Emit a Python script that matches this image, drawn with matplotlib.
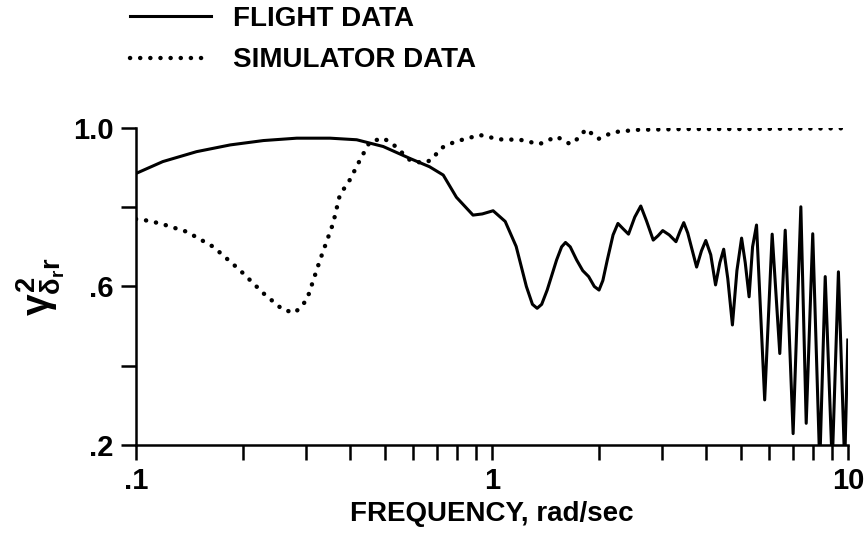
import numpy as np
import matplotlib
matplotlib.use("Agg")
import matplotlib.pyplot as plt
from matplotlib.lines import Line2D

plt.rcParams['font.family'] = ['Liberation Sans', 'DejaVu Sans']
plt.rcParams['font.weight'] = 'bold'
plt.rcParams['mathtext.fontset'] = 'custom'
plt.rcParams['mathtext.rm'] = 'Liberation Sans:bold'
plt.rcParams['mathtext.it'] = 'Liberation Sans:bold'
plt.rcParams['mathtext.bf'] = 'Liberation Sans:bold'
plt.rcParams['lines.scale_dashes'] = False

# coherence, flight test
flight_freq = [0.1, 0.119, 0.148, 0.184, 0.228, 0.283, 0.351, 0.417, 0.495, 0.588,
               0.668, 0.73, 0.795, 0.885, 0.94, 1.008, 1.09, 1.17, 1.25, 1.30,
               1.34, 1.38, 1.43, 1.52, 1.57, 1.61, 1.66, 1.73, 1.80, 1.87,
               1.94, 2.00, 2.05, 2.11, 2.19, 2.26, 2.34, 2.42, 2.52, 2.62,
               2.72, 2.84, 2.93, 3.02, 3.15, 3.29, 3.38, 3.46, 3.55, 3.76,
               3.88, 3.99, 4.12, 4.25, 4.37, 4.48, 4.60, 4.74, 4.88, 5.03,
               5.15, 5.28, 5.40, 5.54, 5.84, 6.13, 6.44, 6.67, 7.02, 7.38,
               7.64, 7.97, 8.34, 8.64, 9.04, 9.41, 9.80, 10.0]
flight_coh = [0.885, 0.915, 0.940, 0.957, 0.968, 0.974, 0.974, 0.970, 0.953, 0.923,
              0.902, 0.881, 0.825, 0.780, 0.783, 0.791, 0.764, 0.701, 0.600, 0.555,
              0.545, 0.555, 0.591, 0.667, 0.700, 0.711, 0.700, 0.667, 0.640, 0.625,
              0.600, 0.591, 0.615, 0.667, 0.730, 0.759, 0.745, 0.732, 0.775, 0.803,
              0.765, 0.717, 0.728, 0.741, 0.730, 0.713, 0.740, 0.761, 0.735, 0.649,
              0.690, 0.716, 0.680, 0.604, 0.660, 0.694, 0.620, 0.503, 0.640, 0.722,
              0.660, 0.574, 0.700, 0.755, 0.314, 0.732, 0.431, 0.742, 0.229, 0.801,
              0.255, 0.733, 0.150, 0.625, 0.150, 0.637, 0.150, 0.465]

# coherence, simulator
sim_freq = [0.1, 0.105, 0.117, 0.139, 0.165, 0.196, 0.228, 0.259, 0.280, 0.302,
            0.329, 0.358, 0.374, 0.399, 0.426, 0.454, 0.496, 0.53, 0.588, 0.64,
            0.676, 0.72, 0.787, 0.925, 1.05, 1.20, 1.36, 1.52, 1.66, 1.75,
            1.84, 1.99, 2.19, 2.55, 3.5, 5.0, 7.0, 10.0]
sim_coh = [0.770, 0.768, 0.759, 0.738, 0.700, 0.641, 0.583, 0.541, 0.534, 0.566,
           0.667, 0.759, 0.831, 0.869, 0.919, 0.965, 0.974, 0.957, 0.919, 0.911,
           0.919, 0.949, 0.965, 0.982, 0.971, 0.970, 0.959, 0.978, 0.959, 0.974,
           0.997, 0.972, 0.989, 0.995, 0.997, 0.997, 0.998, 0.999]

dotted = (0, (0.1, 7.2))

fig = plt.figure(figsize=(8.66, 5.35), dpi=100)
ax = fig.add_axes([0.157, 0.168, 0.822, 0.593])

ax.plot(flight_freq, flight_coh, color='black', lw=2.2, solid_joinstyle='round')
ax.plot(sim_freq, sim_coh, color='black', lw=3.2, linestyle=dotted,
        dash_capstyle='round')

ax.set_xscale('log')
ax.set_xlim(0.1, 10)
ax.set_ylim(0.2, 1.0)
ax.set_xticks([0.1, 1, 10])
ax.set_xticklabels(['.1', '1', '10'])
ax.set_yticks([0.2, 0.4, 0.6, 0.8, 1.0])
ax.set_yticklabels(['.2', '', '.6', '', '1.0'])

for side in ('top', 'right'):
    ax.spines[side].set_visible(False)
for side in ('left', 'bottom'):
    ax.spines[side].set_linewidth(1.8)

ax.tick_params(axis='both', which='major', direction='out', length=11, width=1.8,
               labelsize=21, pad=5)
ax.tick_params(axis='x', which='minor', direction='out', length=11, width=1.8)

ax.set_xlabel('FREQUENCY, rad/sec', fontsize=20, fontweight='bold', labelpad=4)
ax.set_ylabel(r'$\gamma^2_{\delta_r r}$', fontsize=28)
ax.yaxis.set_label_coords(-0.097, 0.5)

# legend drawn above the axes
solid = Line2D([0], [0], color='black', lw=2.2)
dots = Line2D([0], [0], color='black', lw=3.2, linestyle=dotted, dash_capstyle='round')
fig.legend([solid, dots], ['FLIGHT DATA', 'SIMULATOR DATA'],
           loc='upper left', bbox_to_anchor=(130 / 866, 1 - 6 / 535), frameon=False,
           borderpad=0, borderaxespad=0, handlelength=2.9, handletextpad=0.8,
           labelspacing=0.55, prop={'weight': 'bold', 'size': 20})

fig.savefig('out.png', dpi=100)
